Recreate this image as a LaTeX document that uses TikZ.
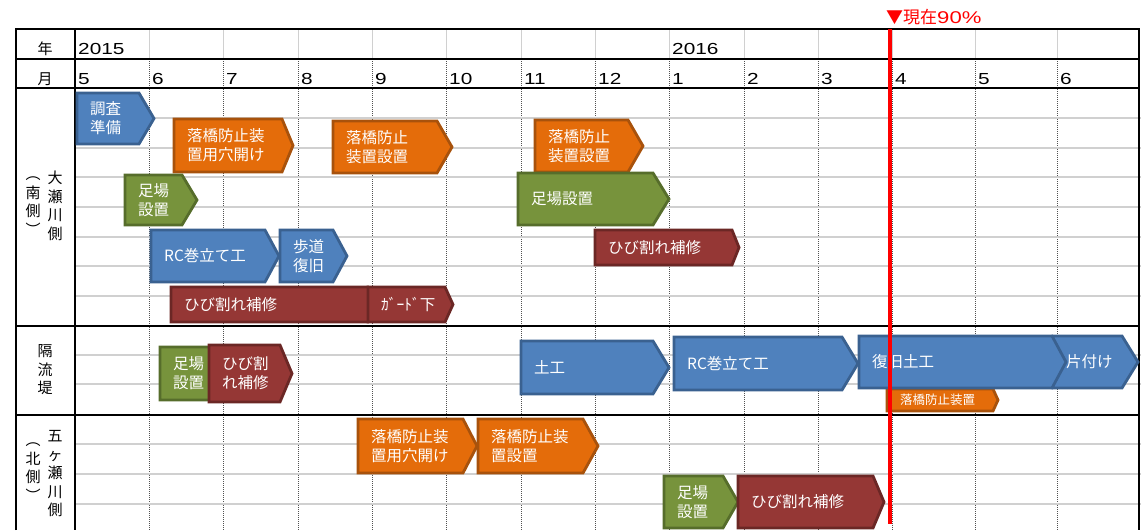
\documentclass[tikz,border=0pt]{standalone}
\usepackage{fontspec}
\setmainfont{Noto Sans CJK JP}
\newfontfamily\numfont[FakeStretch=1.3]{Liberation Sans}

\definecolor{barblue}{HTML}{4F81BD}
\definecolor{barblueline}{HTML}{3A6190}
\definecolor{barorange}{HTML}{E46C0A}
\definecolor{barorangeline}{HTML}{A8520C}
\definecolor{bargreen}{HTML}{77933C}
\definecolor{bargreenline}{HTML}{566D2B}
\definecolor{barred}{HTML}{953735}
\definecolor{barredline}{HTML}{6B2725}
\definecolor{gridgray}{HTML}{D0D0D0}
\definecolor{dotgray}{HTML}{505050}

% style, name, left, tip, top, bottom, tip depth, text
\newcommand{\ganttbar}[8]{%
  \draw[#1] (#3,#5) -- ({#4-#7},#5) -- (#4,{(#5+#6)/2}) -- ({#4-#7},#6) -- (#3,#6) -- cycle;
  \node[bartext] (#2) at ({#3+13},{(#5+#6)/2}) {#8};
}

\begin{document}
\begin{tikzpicture}[x=1pt,y=-1pt,
    tableline/.style={black,line width=1.6pt},
    yeargrid/.style={gridgray,line width=1pt},
    monthgrid/.style={dotgray,line width=1pt,dash pattern=on 1pt off 1pt},
    rowgrid/.style={gridgray,line width=1.3pt},
    hdr/.style={anchor=west,inner sep=0pt,font=\numfont\fontsize{16}{19}\selectfont},
    sidelabel/.style={inner sep=0pt,align=center,font=\fontsize{15}{18.5}\selectfont},
    bartext/.style={anchor=west,inner sep=0pt,align=left,text=white,font=\fontsize{15.5}{19}\selectfont},
    bluebar/.style={fill=barblue,draw=barblueline,line width=2.8pt},
    orangebar/.style={fill=barorange,draw=barorangeline,line width=2.8pt},
    greenbar/.style={fill=bargreen,draw=bargreenline,line width=2.8pt},
    redbar/.style={fill=barred,draw=barredline,line width=2.8pt}]
\useasboundingbox (0,0) rectangle (1147,530);

% grid
\foreach \x in {149,223,298,372,446,521,595,669,744,818,892,975,1057} {
  \draw[yeargrid] (\x,29) -- (\x,59);
  \draw[monthgrid] (\x,59) -- (\x,530);
}
\foreach \y in {118,148,177,207,237,266,296,355,384,444,474,504}
  \draw[rowgrid] (75,\y) -- (1141,\y);
\draw[tableline] (16,530) -- (16,29) -- (1139,29) -- (1139,530);
\foreach \y in {59,88,326,415}
  \draw[tableline] (16,\y) -- (1139,\y);
\draw[tableline] (75,29) -- (75,530);

% headers
\node[sidelabel] (nen) at (45,49) {年};
\node[sidelabel] (tsuki) at (45,79) {月};
\node[hdr] (y2015) at (78,49) {2015};
\node[hdr] (y2016) at (672,49) {2016};
\foreach \x/\m [count=\i] in {75/5,149/6,223/7,298/8,372/9,446/10,521/11,595/12,669/1,744/2,818/3,892/4,975/5,1057/6}
  \node[hdr] (month\i) at ({\x+3},79) {\m};

% side labels
\node[sidelabel] (ooseA) at (55,206) {大\\瀬\\川\\側};
\node[sidelabel] (ooseB) at (33,206) {︵\\南\\側\\︶};
\node[sidelabel] (karyu) at (45,370) {隔\\流\\堤};
\node[sidelabel] (gokaA) at (55,474) {五\\ヶ\\瀬\\川\\側};
\node[sidelabel] (gokaB) at (33,472) {︵\\北\\側\\︶};

% 大瀬川側
\ganttbar{bluebar}{chosa}{77}{154}{93}{144}{15}{調査\\準備}
\ganttbar{orangebar}{anaA}{174}{293}{119}{172}{11}{落橋防止装\\置用穴開け}
\ganttbar{orangebar}{setchiA}{333}{452}{121}{173}{15}{落橋防止\\装置設置}
\ganttbar{orangebar}{setchiB}{535}{643}{120}{172}{15}{落橋防止\\装置設置}
\ganttbar{greenbar}{ashibaA}{125}{197}{175}{225}{15}{足場\\設置}
\ganttbar{greenbar}{ashibaB}{518}{669}{173}{225}{16}{足場設置}
\ganttbar{bluebar}{rcA}{151}{279}{230}{282}{14}{RC巻立て工}
\ganttbar{bluebar}{hodo}{280}{347}{230}{282}{14}{歩道\\復旧}
\ganttbar{redbar}{hibiA}{171}{376}{287}{322}{8}{ひび割れ補修}
\ganttbar{redbar}{gado}{368}{453}{287}{322}{8}{ｶﾞｰﾄﾞ下}
\ganttbar{redbar}{hibiB}{595}{739}{230}{265}{7}{ひび割れ補修}

% 隔流堤
\ganttbar{greenbar}{ashibaC}{160}{222}{347}{400}{12}{足場\\設置}
\ganttbar{redbar}{hibiC}{209}{292}{345}{402}{12}{ひび割\\れ補修}
\ganttbar{bluebar}{doko}{521}{669}{341}{394}{16}{土工}
\ganttbar{bluebar}{rcB}{674}{858}{337}{390}{16}{RC巻立て工}
\ganttbar{orangebar}{rakkyo}{887}{998}{389}{411}{5}{}
\node[bartext,font=\fontsize{12.5}{15}\selectfont] (rakkyotext) at (900,400) {落橋防止装置};
\ganttbar{bluebar}{katazuke}{1053}{1138}{336}{388}{16}{片付け}
\ganttbar{bluebar}{fukkyu}{859}{1066}{336}{388}{14}{復旧土工}

% 五ヶ瀬川側
\ganttbar{orangebar}{anaB}{358}{477}{419}{473}{14}{落橋防止装\\置用穴開け}
\ganttbar{orangebar}{setchiC}{478}{598}{419}{473}{15}{落橋防止装\\置設置}
\ganttbar{greenbar}{ashibaD}{664}{738}{476}{528}{15}{足場\\設置}
\ganttbar{redbar}{hibiD}{738}{884}{476}{528}{11}{ひび割れ補修}

% progress line
\draw[red,line width=4.5pt] (890,29) -- (890,524);
\node[anchor=west,inner sep=0pt,text=red,font=\fontsize{17}{20}\selectfont] (genzai) at (886,17.5) {▼現在{\numfont 90\%}};
\end{tikzpicture}
\end{document}
